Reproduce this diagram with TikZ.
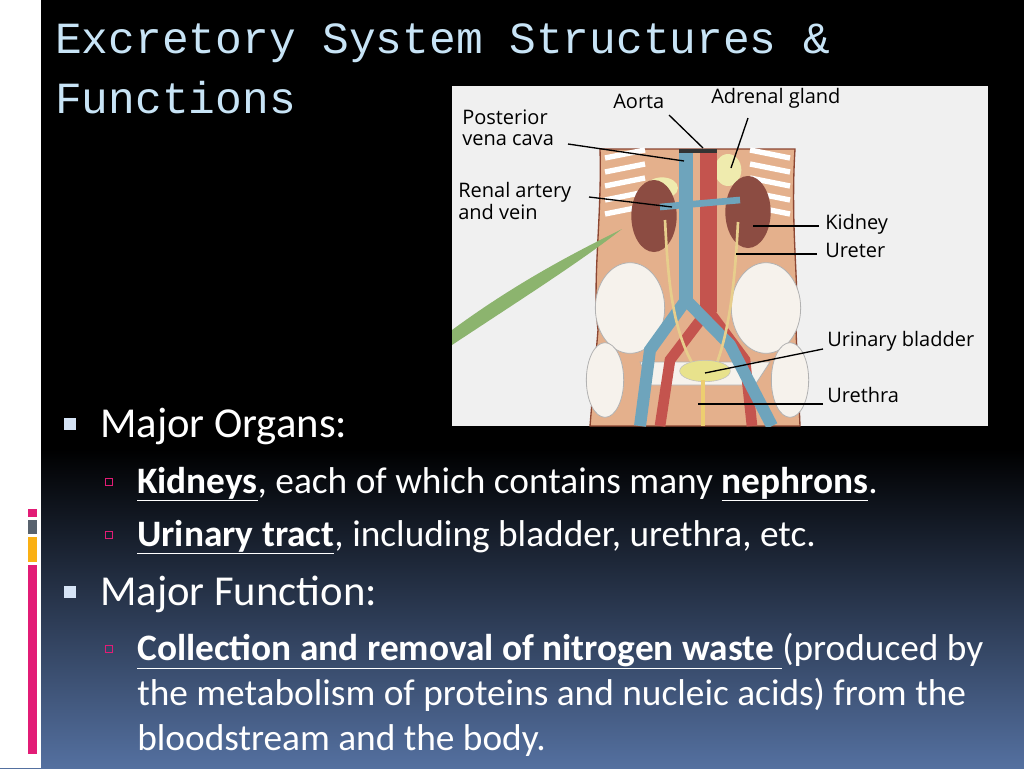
\documentclass[tikz,border=0pt]{standalone}
\usepackage{fontspec}
\setmainfont{Carlito}
\newfontfamily\titlefont{Liberation Mono}
\newfontfamily\labelfont{Open Sans}
\usetikzlibrary{positioning}
\definecolor{titleblue}{RGB}{200,228,246}
\definecolor{slidebot}{RGB}{84,112,160}
\definecolor{bulletblue}{RGB}{214,228,246}
\definecolor{barpink}{RGB}{226,28,118}
\definecolor{bargray}{RGB}{88,98,110}
\definecolor{barorange}{RGB}{250,176,20}
\definecolor{skin}{RGB}{228,176,140}
\definecolor{skinline}{RGB}{140,70,50}
\definecolor{kidneybrown}{RGB}{140,76,66}
\definecolor{veinblue}{RGB}{110,164,188}
\definecolor{arteryred}{RGB}{196,84,78}
\definecolor{bone}{RGB}{246,242,236}
\definecolor{bladder}{RGB}{232,226,140}
\definecolor{leafgreen}{RGB}{140,180,110}
\tikzset{
  % slide text
  lvlone/.style={anchor=base west, text=white, font=\fontsize{32}{36}\selectfont, inner sep=0pt},
  lvltwo/.style={anchor=base west, text=white, font=\fontsize{28}{34}\selectfont, inner sep=0pt, align=left},
  bulone/.style={fill=bulletblue, minimum size=9pt, inner sep=0pt},
  bultwo/.style={draw=barpink, line width=1pt, minimum size=5.5pt, inner sep=0pt},
  % picture labels
  lbl/.style={anchor=west, font=\labelfont\fontsize{15}{16}\selectfont, inner sep=0pt, align=left},
  pointer/.style={black, line width=1pt},
  bonepart/.style={fill=bone, draw=gray!60, line width=0.6pt},
}
\begin{document}
\begin{tikzpicture}[x=0.75pt,y=-0.75pt]
\useasboundingbox (0,0) rectangle (1024,768);
% background
\fill[black] (0,0) rectangle (1024,450);
\shade[top color=black, bottom color=slidebot] (0,449) rectangle (1024,768);
\fill[white] (0,0) rectangle (41,768);
\fill[barpink] (28,509) rectangle (37,517);
\fill[bargray] (28,520) rectangle (37,534);
\fill[barorange] (28,537) rectangle (37,562);
\fill[barpink] (28,565) rectangle (37,754);

% title
\node[anchor=base west, inner sep=0pt, text=titleblue, font=\titlefont\fontsize{33.4}{45}\selectfont] (title1) at (55,53) {Excretory System Structures \&};
\node[anchor=base west, inner sep=0pt, text=titleblue, font=\titlefont\fontsize{33.4}{45}\selectfont] (title2) at (55,113) {Functions};

% illustration
\fill[gray!12] (452,86) rectangle (988,426);
\begin{scope}
  \clip (452,86) rectangle (988,426);
  \fill[skin, draw=skinline, line width=1pt] (600,149) -- (795,149) .. controls (790,230) and (800,290) .. (796,330) -- (800,426) -- (590,426) -- (598,330) .. controls (592,280) and (602,220) .. (600,149) -- cycle;
  % ribs
  \foreach \k in {0,...,4} {
    \draw[white, line width=4pt] (605,{158+\k*14}) -- (645,{150+\k*14});
    \draw[white, line width=4pt] (790,{158+\k*14}) -- (750,{150+\k*14});
  }
  % leaf
  \fill[leafgreen] (452,330) .. controls (520,280) and (580,250) .. (622,229) .. controls (580,262) and (520,300) .. (452,345) -- cycle;
  % adrenal glands
  \fill[bladder!70!white] (662,188) ellipse (12pt and 8pt);
  \fill[bladder!70!white] (728,170) ellipse (10pt and 12pt);
  % kidneys
  \fill[kidneybrown] (654,216) ellipse (17pt and 27pt);
  \fill[kidneybrown] (748,212) ellipse (17pt and 27pt);
  % pelvis
  \fill[bonepart] (630,308) ellipse (26pt and 34pt);
  \fill[bonepart] (766,308) ellipse (26pt and 34pt);
  \fill[bonepart] (605,380) ellipse (14pt and 28pt);
  \fill[bonepart] (790,380) ellipse (14pt and 28pt);
  \fill[bonepart] (640,362) -- (770,362) -- (755,385) -- (650,385) -- cycle;
  % vessels
  \fill[arteryred] (700,149) rectangle (717,312);
  \draw[arteryred, line width=8pt] (708,310) -- (670,360) -- (660,426);
  \draw[arteryred, line width=8pt] (708,310) -- (745,360) -- (752,426);
  \fill[veinblue] (679,149) rectangle (693,305);
  \draw[veinblue, line width=9pt] (686,300) -- (650,350) -- (640,426);
  \draw[veinblue, line width=9pt] (686,300) -- (730,345) -- (772,426);
  \draw[veinblue, line width=5pt] (660,207) -- (740,200);
  \fill[black!80] (679,149) rectangle (717,153);
  % ureters
  \draw[bladder!60!skin, line width=2pt] (665,220) .. controls (668,280) and (672,330) .. (695,368);
  \draw[bladder!60!skin, line width=2pt] (738,222) .. controls (735,280) and (730,330) .. (715,368);
  % bladder and urethra
  \fill[bladder, draw=gray!50] (705,371) ellipse (19pt and 8pt);
  \draw[bladder!80!orange, line width=3pt] (703,380) -- (703,426);
\end{scope}

% anchors for pointers
\coordinate (aortaEnd) at (703,148);
\coordinate (adrenalEnd) at (731,168);
\coordinate (cavaEnd) at (684,161);
\coordinate (renalEnd) at (672,207);
\coordinate (kidneyEnd) at (753,226);
\coordinate (ureterEnd) at (736,254);
\coordinate (bladderEnd) at (705,373);
\coordinate (urethraEnd) at (698,404);

\node[lbl] (aorta) at (613,101) {Aorta};
\node[lbl] (adrenal) at (711,98) {Adrenal gland};
\node[lbl] (cava) at (462,128) {Posterior\\vena cava};
\node[lbl] (renal) at (458,201) {Renal artery\\and vein};
\node[lbl] (kidney) at (825,224) {Kidney};
\node[lbl] (ureter) at (825,250) {Ureter};
\node[lbl] (bladderlbl) at (827,341) {Urinary bladder};
\node[lbl] (urethra) at (827,395) {Urethra};

\draw[pointer] (669,115) -- (aortaEnd);
\draw[pointer] (748,118) -- (adrenalEnd);
\draw[pointer] (568,144) -- (cavaEnd);
\draw[pointer] (589,197) -- (renalEnd);
\draw[pointer] (kidney.west) ++(-6,2) -- (kidneyEnd);
\draw[pointer] (ureter.west) ++(-8,4) -- (ureterEnd);
\draw[pointer] (bladderlbl.west) ++(-4,8) -- (bladderEnd);
\draw[pointer] (urethra.west) ++(-4,9) -- (urethraEnd);

% bullet text
\node[bulone] (b1) at (70,424) {};
\node[lvlone] (organs) at (100,437) {Major Organs:};
\node[bultwo] (b2) at (109,482) {};
\node[lvltwo] (kidneys) at (137,493) {\underline{\textbf{Kidneys}}, each of which contains many \underline{\textbf{nephrons}}.};
\node[bultwo] (b3) at (109,535) {};
\node[lvltwo] (tract) at (137,546) {\underline{\textbf{Urinary tract}}, including bladder, urethra, etc.};
\node[bulone] (b4) at (70,592) {};
\node[lvlone] (function) at (100,605) {Major Function:};
\node[bultwo] (b5) at (109,649) {};
\node[lvltwo] (collect) at (137,660) {\underline{\textbf{Collection and removal of nitrogen waste\ }}(produced by};
\node[lvltwo] (collect2) at (137,705) {the metabolism of proteins and nucleic acids) from the};
\node[lvltwo] (collect3) at (137,750) {bloodstream and the body.};
\end{tikzpicture}
\end{document}
